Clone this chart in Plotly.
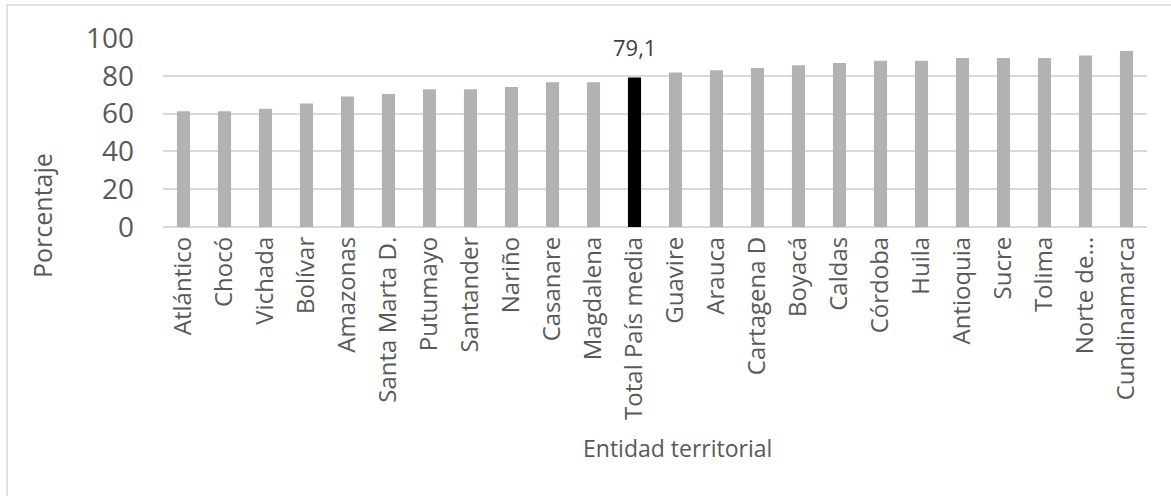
import plotly.graph_objects as go

# Territorial entities, sorted by percentage
entidades = [
    "Atlántico", "Chocó", "Vichada", "Bolívar", "Amazonas", "Santa Marta D.",
    "Putumayo", "Santander", "Nariño", "Casanare", "Magdalena", "Total País media",
    "Guavire", "Arauca", "Cartagena D", "Boyacá", "Caldas", "Córdoba", "Huila",
    "Antioquia", "Sucre", "Tolima", "Norte de…", "Cundinamarca",
]
porcentaje = [
    61.2, 61.2, 62.6, 65.3, 69.0, 70.4,
    72.9, 72.9, 74.1, 76.6, 76.6, 79.1,
    81.7, 82.9, 84.1, 85.6, 86.8, 88.0, 88.0,
    89.4, 89.4, 89.4, 90.7, 93.1,
]
total_label = "Total País media"
y_ticks = [0, 20, 40, 60, 80, 100]

bar_colors = ["#000000" if e == total_label else "#b2b2b2" for e in entidades]
total_value = porcentaje[entidades.index(total_label)]

TEXT = "#595959"
FONT = "Open Sans"

fig = go.Figure(
    go.Bar(
        x=entidades,
        y=porcentaje,
        marker=dict(color=bar_colors, line=dict(width=0)),
        hovertemplate="%{x}: %{y}<extra></extra>",
    )
)

fig.update_layout(
    width=1171,
    height=496,
    margin=dict(l=163, r=24, t=38, b=269),
    paper_bgcolor="white",
    plot_bgcolor="white",
    bargap=0.68,
    showlegend=False,
    font=dict(family=FONT, color=TEXT),
    xaxis=dict(
        type="category",
        tickangle=-90,
        tickfont=dict(family=FONT, size=24, color=TEXT),
        showgrid=False,
        showline=False,
        ticks="",
        ticklabelstandoff=4,
    ),
    yaxis=dict(
        range=[0, 100],
        tickvals=y_ticks,
        tickfont=dict(family=FONT, size=28, color=TEXT),
        showgrid=True,
        gridcolor="#d9d9d9",
        gridwidth=1.5,
        zeroline=True,
        zerolinecolor="#d9d9d9",
        zerolinewidth=1.5,
        showline=False,
        ticks="",
        ticklabelstandoff=28,
    ),
    annotations=[
        # value label for the national average bar
        dict(
            text=f"{total_value:.1f}".replace(".", ","),
            x=total_label, y=total_value, xref="x", yref="y",
            xanchor="center", yanchor="bottom", yshift=14,
            showarrow=False, font=dict(family=FONT, size=22, color="#404040"),
        ),
        dict(
            text="Porcentaje", xref="paper", yref="paper",
            x=(42 - 163) / 984, y=(227 - 216) / 189,
            xanchor="center", yanchor="middle", textangle=-90,
            showarrow=False, font=dict(family=FONT, size=25, color=TEXT),
        ),
        dict(
            text="Entidad territorial", xref="paper", yref="paper",
            x=(677 - 163) / 984, y=(227 - 448) / 189,
            xanchor="center", yanchor="middle",
            showarrow=False, font=dict(family=FONT, size=23, color=TEXT),
        ),
    ],
    shapes=[
        dict(
            type="rect", xref="paper", yref="paper",
            x0=(7 - 163) / 984, x1=1.06,
            y0=-1.6, y1=1 + (38 - 5) / 189,
            line=dict(color="#d9d9d9", width=1.5),
            fillcolor="rgba(0,0,0,0)", layer="below",
        )
    ],
)

fig.write_html("out.html")
